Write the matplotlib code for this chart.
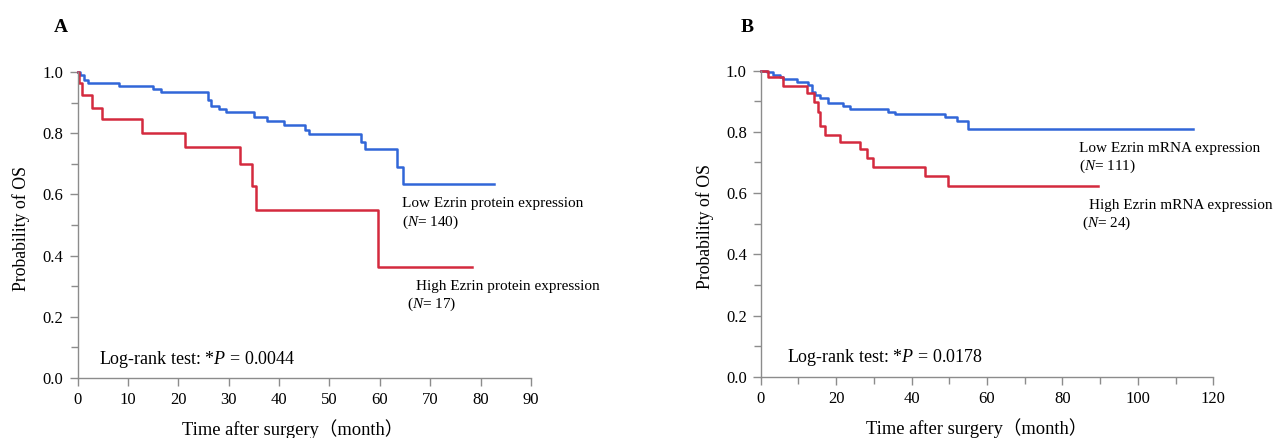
import matplotlib
matplotlib.use("Agg")
import matplotlib.pyplot as plt
from matplotlib.ticker import MultipleLocator

plt.rcParams['font.family'] = ['Liberation Serif', 'Noto Sans CJK JP']
plt.rcParams['mathtext.fontset'] = 'custom'
plt.rcParams['mathtext.rm'] = 'Liberation Serif'
plt.rcParams['mathtext.it'] = 'Liberation Serif:italic'

# Panel A: protein expression
a_low_t = [0, 0.5, 1.3, 2.0, 8.2, 15.0, 16.5, 25.8, 26.5, 28.0, 29.4, 35.0, 37.6, 40.9, 45.2, 45.9, 56.2, 57.0, 63.4, 64.5, 82.6]
a_low_s = [1.0, 0.99, 0.975, 0.963, 0.955, 0.945, 0.935, 0.91, 0.89, 0.88, 0.868, 0.854, 0.840, 0.827, 0.810, 0.797, 0.772, 0.747, 0.688, 0.634, 0.634]
a_high_t = [0, 0.2, 0.9, 2.9, 4.9, 12.8, 21.4, 32.3, 34.7, 35.5, 59.6, 78.3]
a_high_s = [1.0, 0.963, 0.925, 0.881, 0.845, 0.800, 0.756, 0.698, 0.627, 0.549, 0.364, 0.364]

# Panel B: mRNA expression
b_low_t = [0, 1.6, 3.3, 5.1, 6.0, 9.5, 12.6, 13.5, 14.4, 15.7, 17.9, 21.9, 23.7, 33.8, 35.6, 48.9, 52.0, 55.0, 114.7]
b_low_s = [1.0, 0.997, 0.986, 0.978, 0.972, 0.964, 0.953, 0.931, 0.921, 0.910, 0.895, 0.885, 0.874, 0.866, 0.859, 0.848, 0.837, 0.808, 0.808]
b_high_t = [0, 2.0, 6.0, 12.2, 14.0, 15.3, 15.7, 17.0, 21.0, 26.3, 28.1, 29.7, 43.6, 49.7, 89.3]
b_high_s = [1.0, 0.978, 0.951, 0.928, 0.899, 0.866, 0.819, 0.790, 0.768, 0.743, 0.714, 0.686, 0.657, 0.624, 0.624]

BLUE = '#3166d8'
RED = '#d42a3e'
GRAY = '#8c8c8c'

W, H = 1276, 438
fig = plt.figure(figsize=(W / 100, H / 100), dpi=100)

def px_axes(l, r, t, b):
    return fig.add_axes([l / W, 1 - b / H, (r - l) / W, (b - t) / H])

axA = px_axes(77.5, 531, 72, 378)
axB = px_axes(760.7, 1213.3, 70.7, 376.7)

def style(ax, xmax, xmajor, xminor, xlab_x):
    ax.set_xlim(0, xmax)
    ax.set_ylim(0, 1.0)
    for s in ['top', 'right']:
        ax.spines[s].set_visible(False)
    for s in ['left', 'bottom']:
        ax.spines[s].set_color(GRAY)
        ax.spines[s].set_linewidth(1.0)
    ax.xaxis.set_major_locator(MultipleLocator(xmajor))
    if xminor:
        ax.xaxis.set_minor_locator(MultipleLocator(xminor))
    ax.yaxis.set_major_locator(MultipleLocator(0.2))
    ax.yaxis.set_minor_locator(MultipleLocator(0.1))
    ax.yaxis.set_major_formatter(plt.FuncFormatter(lambda v, p: f"{v:.1f}"))
    ax.tick_params(which='major', direction='out', length=6, width=1.0, color=GRAY,
                   labelsize=12, pad=4)
    ax.tick_params(which='minor', direction='out', length=5, width=1.0, color=GRAY)
    ax.set_ylabel('Probability of OS', fontsize=12.8)
    ax.yaxis.set_label_coords(-0.104, 0.49)
    ax.set_xlabel('Time after surgery\uff08month\uff09', fontsize=13.3)
    ax.xaxis.set_label_coords(xlab_x, -0.135)

style(axA, 90, 10, None, 0.475)
style(axB, 120, 20, 10, 0.478)

axA.step(a_low_t, a_low_s, where='post', color=BLUE, lw=1.8, clip_on=False)
axA.step(a_high_t, a_high_s, where='post', color=RED, lw=1.8, clip_on=False)
axB.step(b_low_t, b_low_s, where='post', color=BLUE, lw=1.8, clip_on=False)
axB.step(b_high_t, b_high_s, where='post', color=RED, lw=1.8, clip_on=False)

tfs = 11
axA.text(64.4, 0.569, 'Low Ezrin protein expression', fontsize=tfs, va='center')
axA.text(64.4, 0.508, '($N$= 140)', fontsize=tfs, va='center')
axA.text(67.1, 0.300, 'High Ezrin protein expression', fontsize=tfs, va='center')
axA.text(65.3, 0.242, '($N$= 17)', fontsize=tfs, va='center')
axA.text(4.2, 0.062, 'Log-rank test: *$P$ = 0.0044', fontsize=13, va='center')

axB.text(84.4, 0.746, 'Low Ezrin mRNA expression', fontsize=tfs, va='center')
axB.text(84.4, 0.686, '($N$= 111)', fontsize=tfs, va='center')
axB.text(87.1, 0.561, 'High Ezrin mRNA expression', fontsize=tfs, va='center')
axB.text(85.1, 0.501, '($N$= 24)', fontsize=tfs, va='center')
axB.text(7.0, 0.064, 'Log-rank test: *$P$ = 0.0178', fontsize=13, va='center')

fig.text(61 / W, 1 - 28 / H, 'A', fontsize=14, fontweight='bold', ha='center', va='center')
fig.text(747 / W, 1 - 28 / H, 'B', fontsize=14, fontweight='bold', ha='center', va='center')

fig.savefig('out.png', dpi=100, facecolor='white')
